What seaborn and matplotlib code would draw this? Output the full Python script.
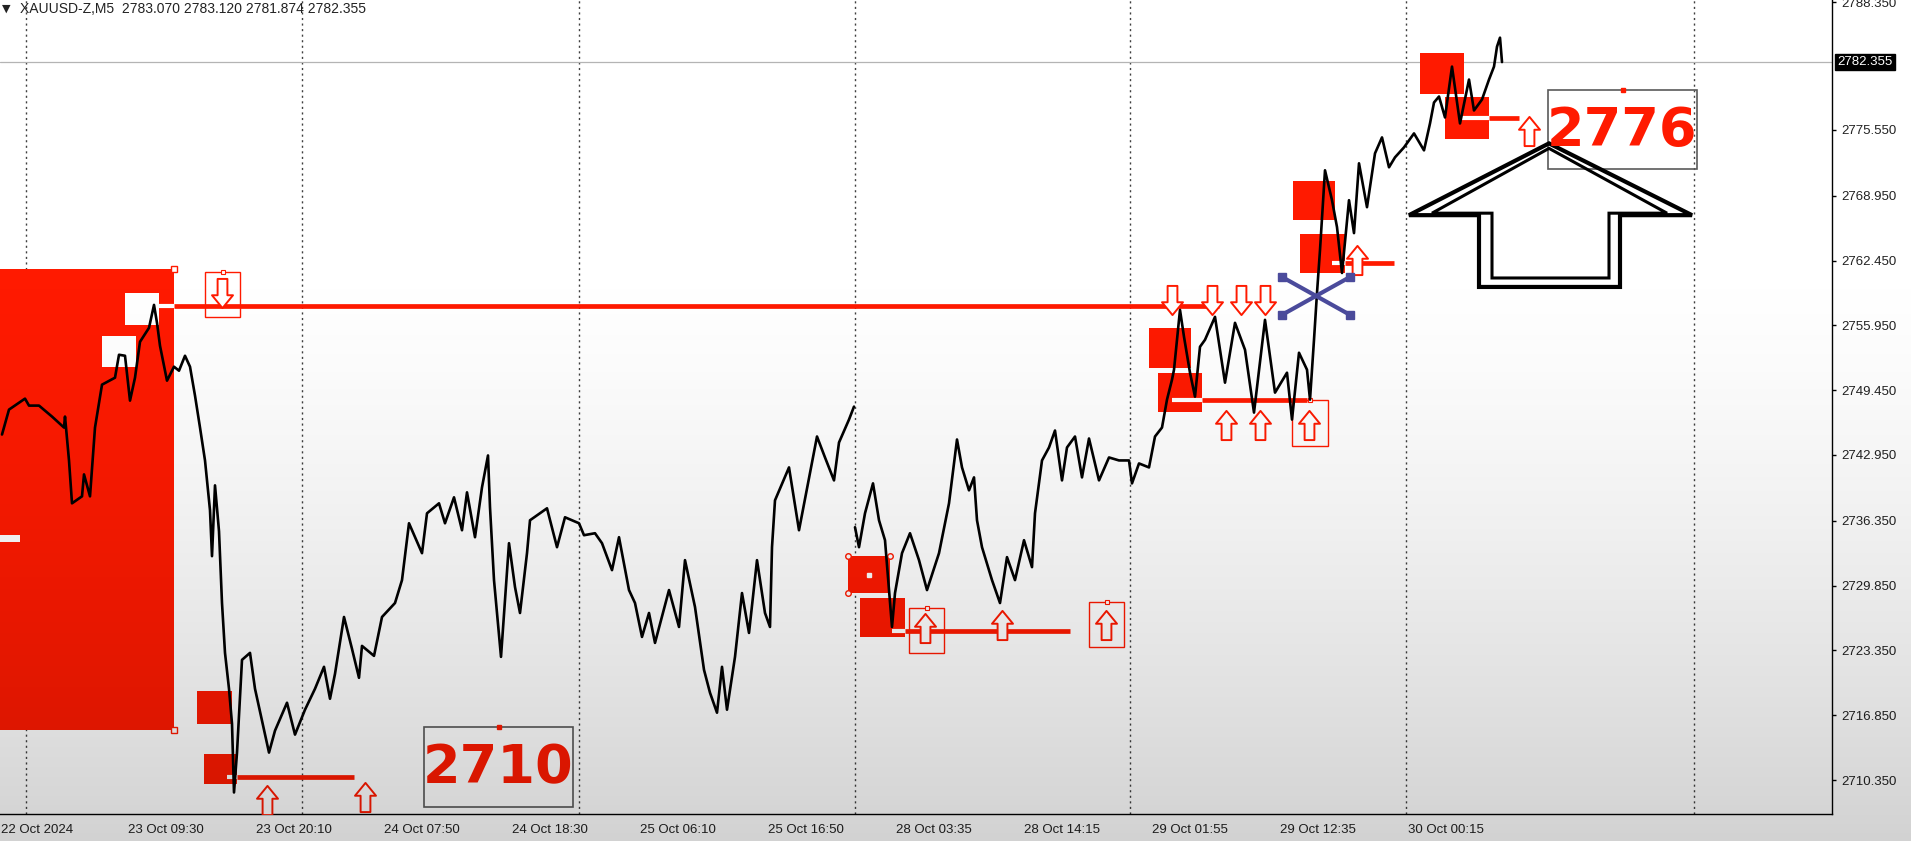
import numpy as np
import pandas as pd
import matplotlib.pyplot as plt
import matplotlib.patches as mpatches
import matplotlib.transforms as mtransforms
from matplotlib.path import Path
import seaborn as sns

# XAUUSD M5 closes (x = bar number on the chart, 1 bar per pixel)
week1_bars = [0, 7, 23, 27, 37, 50, 62, 63, 67, 70, 80, 82, 88, 93, 100, 113, 117, 123, 128, 133,
              138, 147, 152, 155, 158, 165, 172, 177, 183, 188, 193, 198, 203, 208, 210, 213, 217, 220, 223, 227,
              230, 232, 235, 240, 248, 253, 260, 267, 273, 285, 293, 303, 313, 322, 328, 333, 342, 350, 357, 360,
              372, 380, 393, 400, 407, 420, 425, 437, 443, 452, 460, 465, 473, 480, 486, 488, 492, 499, 507, 513,
              518, 525, 528, 545, 555, 563, 577, 582, 593, 600, 610, 617, 620, 627, 633, 640, 647, 653, 667, 677,
              683, 693, 702, 708, 715, 720, 725, 733, 740, 747, 755, 763, 768, 770, 773, 787, 797, 815, 823, 832,
              837, 847, 852]
week1_close = [2745.0, 2747.5, 2748.6, 2747.9, 2747.9, 2746.8, 2745.7, 2746.8, 2742.4, 2738.1,
               2738.8, 2741.0, 2738.8, 2745.7, 2750.0, 2750.7, 2753.0, 2752.9, 2748.4, 2750.7,
               2754.3, 2755.7, 2758.0, 2756.2, 2753.9, 2750.4, 2751.8, 2751.4, 2752.9, 2751.8,
               2748.9, 2745.7, 2742.4, 2737.4, 2732.8, 2739.9, 2735.3, 2728.1, 2723.1, 2719.5,
               2716.0, 2709.1, 2713.1, 2722.4, 2723.1, 2719.5, 2716.3, 2713.1, 2715.3, 2718.1,
               2714.9, 2717.4, 2719.5, 2721.7, 2718.5, 2721.0, 2726.7, 2723.5, 2720.6, 2723.8,
               2722.8, 2726.7, 2728.1, 2730.4, 2736.1, 2733.1, 2737.1, 2738.1, 2736.1, 2738.7,
               2735.4, 2739.2, 2734.7, 2739.7, 2742.9, 2737.7, 2730.4, 2722.7, 2734.1, 2729.7,
               2727.1, 2733.1, 2736.4, 2737.6, 2733.7, 2736.7, 2736.1, 2734.9, 2735.1, 2734.1,
               2731.4, 2734.7, 2733.1, 2729.4, 2728.1, 2724.7, 2727.1, 2724.1, 2729.4, 2725.7,
               2732.4, 2727.7, 2721.4, 2719.1, 2717.1, 2721.7, 2717.4, 2722.7, 2729.1, 2725.1,
               2732.4, 2727.1, 2725.7, 2733.7, 2738.4, 2741.7, 2735.4, 2744.8, 2742.7, 2740.4,
               2744.2, 2746.5, 2747.8]

week2_bars = [853, 857, 863, 871, 877, 883, 890, 893, 900, 908, 917, 925, 937, 947, 955, 960, 967, 972, 975, 980,
              990, 998, 1005, 1013, 1022, 1030, 1033, 1040, 1047, 1053, 1060, 1065, 1073, 1080, 1087, 1097, 1107,
              1117, 1127, 1130, 1137, 1147, 1153, 1160, 1165, 1170, 1172, 1178, 1182, 1188, 1193, 1198, 1203,
              1213, 1223, 1233, 1243, 1252, 1263, 1273, 1285, 1290, 1297, 1305, 1308, 1312, 1315, 1318, 1323,
              1330, 1335, 1340, 1347, 1352, 1357, 1365, 1373, 1380, 1387, 1393, 1402, 1412, 1422, 1428, 1432,
              1437, 1443, 1450, 1458, 1467, 1472, 1480, 1487, 1492, 1495, 1498, 1500]
week2_close = [2735.7, 2733.7, 2737.1, 2740.1, 2736.4, 2734.4, 2725.7, 2729.1, 2733.1, 2735.1,
               2732.4, 2729.4, 2733.1, 2738.1, 2744.5, 2741.7, 2739.4, 2740.7, 2736.4, 2733.7,
               2730.4, 2728.1, 2732.7, 2730.4, 2734.4, 2731.7, 2737.1, 2742.4, 2743.7, 2745.4,
               2740.4, 2743.7, 2744.8, 2740.7, 2744.6, 2740.4, 2742.7, 2742.4, 2742.4, 2740.1,
               2742.1, 2741.7, 2744.8, 2745.7, 2748.5, 2750.5, 2751.5, 2757.5, 2754.8, 2751.2,
               2748.8, 2753.8, 2754.5, 2756.8, 2750.2, 2756.2, 2753.5, 2747.2, 2756.5, 2749.2,
               2751.2, 2746.5, 2753.2, 2751.5, 2748.5, 2754.5, 2759.2, 2763.5, 2771.5, 2768.5,
               2765.8, 2761.2, 2768.5, 2765.2, 2772.2, 2767.8, 2773.2, 2774.8, 2771.8, 2772.8,
               2773.8, 2775.2, 2773.5, 2776.2, 2778.3, 2778.9, 2776.8, 2781.9, 2776.2, 2780.6,
               2777.5, 2778.6, 2780.6, 2781.9, 2783.9, 2784.8, 2782.355]

header = "XAUUSD-Z,M5  2783.070 2783.120 2781.874 2782.355"
last_price = 2782.355

time_ticks = [-1, 126, 254, 382, 510, 638, 766, 894, 1022, 1150, 1278, 1406]
time_labels = ["22 Oct 2024", "23 Oct 09:30", "23 Oct 20:10", "24 Oct 07:50", "24 Oct 18:30",
               "25 Oct 06:10", "25 Oct 16:50", "28 Oct 03:35", "28 Oct 14:15", "29 Oct 01:55",
               "29 Oct 12:35", "30 Oct 00:15"]
price_ticks = [2788.35, 2775.55, 2768.95, 2762.45, 2755.95, 2749.45, 2742.95,
               2736.35, 2729.85, 2723.35, 2716.85, 2710.35]
day_breaks = [24, 300, 577, 853, 1128, 1404, 1692]

# zones: (first bar, last bar, low, high)
sell_zone = (-20, 172, 2715.4, 2761.6)
red_boxes = [(195, 230, 2716.0, 2719.3), (202, 235, 2709.9, 2713.0),
             (846, 888, 2729.1, 2732.8), (858, 903, 2724.7, 2728.6),
             (1147, 1189, 2751.7, 2755.7), (1156, 1200, 2747.3, 2751.2),
             (1291, 1333, 2766.5, 2770.4), (1298, 1343, 2761.2, 2765.1),
             (1418, 1462, 2779.2, 2783.3), (1443, 1487, 2774.6, 2778.9)]
white_boxes = [(123, 157, 2756.0, 2759.2), (100, 134, 2751.8, 2754.9), (-5, 18, 2734.2, 2734.9)]
# horizontal levels: (start bar, end bar, price)
levels = [(172, 1217, 2757.9), (235, 352, 2710.7), (903, 1068, 2725.3),
          (1200, 1305, 2748.5), (1343, 1392, 2762.2), (1487, 1517, 2776.7)]
level_inside = [(142, 172, 2757.9), (225, 235, 2710.7), (890, 903, 2725.3),
                (1170, 1200, 2748.5), (1330, 1343, 2762.2), (1458, 1487, 2776.7)]
up_bars = [265, 363, 923, 1000, 1104, 1224, 1258, 1307, 1355, 1527]
up_prices = [2708.3, 2708.6, 2725.6, 2725.9, 2725.9, 2746.0, 2746.0, 2746.0, 2762.5, 2775.4]
down_bars = [220, 1170, 1210, 1239, 1263]
down_prices = [2759.2, 2758.5, 2758.5, 2758.5, 2758.5]
arrow_frames = [(203, 238, 2756.8, 2761.3), (907, 942, 2723.1, 2727.6),
                (1087, 1122, 2723.7, 2728.2), (1290, 1326, 2743.8, 2748.5)]
label_texts = ["2710", "2776"]
label_bars = [496, 1620]
label_prices = [2711.5, 2775.4]
label_frames = [(422, 571, 2707.6, 2715.7), (1546, 1695, 2771.6, 2779.6)]
big_arrow_outer = [(1407, 2767.0), (1547, 2774.2), (1690, 2767.0), (1618, 2767.0),
                   (1618, 2759.8), (1477, 2759.8), (1477, 2767.0)]
big_arrow_inner = [(1430, 2767.2), (1547, 2773.7), (1665, 2767.2), (1607, 2767.2),
                   (1607, 2760.7), (1490, 2760.7), (1490, 2767.2)]
cross_bars = [1280, 1348]
cross_prices = [2757.0, 2760.8]

RED = "#ff1a00"

prices = pd.concat([
    pd.DataFrame({"bar": week1_bars, "close": week1_close, "week": 1}),
    pd.DataFrame({"bar": week2_bars, "close": week2_close, "week": 2}),
])

# hollow arrow marker shapes (wingdings style)
up_shape = Path([(0, 12.5), (9, 1.5), (4.2, 1.5), (4.2, -12.5), (-4.2, -12.5), (-4.2, 1.5), (-9, 1.5), (0, 12.5)],
                closed=True)
down_shape = Path([(0, -12.5), (9, -1.5), (4.2, -1.5), (4.2, 12.5), (-4.2, 12.5), (-4.2, -1.5), (-9, -1.5), (0, -12.5)],
                  closed=True)

sns.set_style("white")
plt.rcParams["font.family"] = ["Liberation Sans", "DejaVu Sans"]

fig = plt.figure(figsize=(19.11, 8.41), dpi=100)
fig.patch.set_facecolor("white")
ax = fig.add_axes([0, 27 / 841, 1832 / 1911, 814 / 841])
ax.set_facecolor("white")

# period separators and last price line
for b in day_breaks:
    ax.axvline(b, color="#404040", lw=1, ls=(0, (1.5, 2.5)), zorder=0)
ax.axhline(last_price, color="#b4b4b4", lw=0.9, zorder=0)

# zones
x0, x1, lo, hi = sell_zone
ax.add_patch(mpatches.Rectangle((x0, lo), x1 - x0, hi - lo, fc=RED, ec="none", zorder=1))
for x0, x1, lo, hi in red_boxes:
    ax.add_patch(mpatches.Rectangle((x0, lo), x1 - x0, hi - lo, fc=RED, ec="none", zorder=1))
for x0, x1, lo, hi in white_boxes:
    ax.add_patch(mpatches.Rectangle((x0, lo), x1 - x0, hi - lo, fc="white", ec="none", zorder=1.5))
for x0, x1, p in levels:
    ax.hlines(p, x0, x1, color=RED, lw=3.4, zorder=2)
for x0, x1, p in level_inside:
    ax.hlines(p, x0, x1, color="white", lw=3.0, zorder=2)

# selection handles
handle = dict(ls="none", marker="s", ms=4, mfc="white", mec=RED, mew=1, zorder=2.5)
ax.plot([sell_zone[1]] * 2, [sell_zone[2], sell_zone[3]], **handle)
g = red_boxes[2]
ax.plot([g[0], g[1], g[0]], [g[3], g[3], g[2]], **dict(handle, marker="o"))
ax.plot([(g[0] + g[1]) / 2], [(g[2] + g[3]) / 2], ls="none", marker="s", ms=2.5, mfc="white",
        mec="white", zorder=2.5)

for x0, x1, lo, hi in arrow_frames:
    ax.add_patch(mpatches.Rectangle((x0, lo), x1 - x0, hi - lo, fc="none", ec=RED, lw=1, zorder=2))
    ax.plot([(x0 + x1) / 2], [hi], ls="none", marker="s", ms=3.5, mfc="white", mec=RED, mew=0.8, zorder=2.5)

# price line
sns.lineplot(data=prices, x="bar", y="close", units="week", estimator=None,
             color="black", lw=1.9, ax=ax, legend=False, zorder=3)

# signal arrows
ax.plot(up_bars, up_prices, ls="none", marker=up_shape, ms=21, mfc="white", mec=RED, mew=1.4, zorder=4)
ax.plot(down_bars, down_prices, ls="none", marker=down_shape, ms=21, mfc="white", mec=RED, mew=1.4, zorder=4)

# blue cross
cx = dict(color="#4b4b9c", lw=3, marker="s", ms=6, zorder=4)
ax.plot(cross_bars, cross_prices, **cx)
ax.plot(cross_bars, cross_prices[::-1], **cx)

# price labels
for t, b, p, (x0, x1, lo, hi) in zip(label_texts, label_bars, label_prices, label_frames):
    ax.add_patch(mpatches.Rectangle((x0, lo), x1 - x0, hi - lo, fc="none", ec="#5a5a5a", lw=1.2, zorder=4))
    ax.plot([(x0 + x1) / 2], [hi], ls="none", marker="s", ms=2.5, color=RED, zorder=4)
    ax.text(b, p, t, color=RED, fontsize=39, weight="heavy", family="DejaVu Sans",
            ha="center", va="center", zorder=5)

# big hollow arrow
ax.add_patch(mpatches.Polygon(big_arrow_outer, closed=True, fill=False, ec="black", lw=3, zorder=4))
ax.add_patch(mpatches.Polygon(big_arrow_inner, closed=True, fill=False, ec="black", lw=2.2, zorder=4))

# axes
ax.set_xlim(-2, 1830)
ax.set_ylim(2706.94, 2788.58)
ax.set_xlabel("")
ax.set_ylabel("")
for s in ["left", "top"]:
    ax.spines[s].set_visible(False)
for s in ["right", "bottom"]:
    ax.spines[s].set_color("black")
    ax.spines[s].set_linewidth(1)
ax.set_xticks(time_ticks, time_labels)
for lbl in ax.get_xticklabels():
    lbl.set_ha("left")
ax.yaxis.tick_right()
ax.set_yticks(price_ticks, [f"{p:.3f}" for p in price_ticks])
ax.tick_params(axis="x", length=4, width=1, pad=3, labelsize=9.5, colors="black", labelcolor="#222222")
ax.tick_params(axis="y", length=3, width=1, pad=4, labelsize=9.5, colors="black", labelcolor="#222222")

trans = mtransforms.blended_transform_factory(ax.transAxes, ax.transData)
ax.text(1.003, last_price, f"{last_price:.3f}", transform=trans, color="white", fontsize=9.5,
        va="center", ha="left", clip_on=False,
        bbox=dict(facecolor="black", edgecolor="black", pad=1.5))

fig.text(2 / 1911, 1 - 9 / 841, "\u25bc", fontsize=8, family="DejaVu Sans", va="center", color="#222222")
fig.text(20 / 1911, 1 - 9 / 841, header, fontsize=10, va="center", color="#222222")

# darkening toward the bottom of the screen capture
rows = np.arange(841)
t = np.clip((rows - 250) / 591, 0, 1) ** 1.4
shade = np.zeros((841, 1, 4))
shade[:, 0, 3] = 0.18 * t
ov = fig.add_axes([0, 0, 1, 1], zorder=10)
ov.imshow(shade, aspect="auto", extent=(0, 1, 0, 1), interpolation="bilinear")
ov.set_axis_off()
ov.patch.set_alpha(0)

fig.savefig("out.png", dpi=100)
